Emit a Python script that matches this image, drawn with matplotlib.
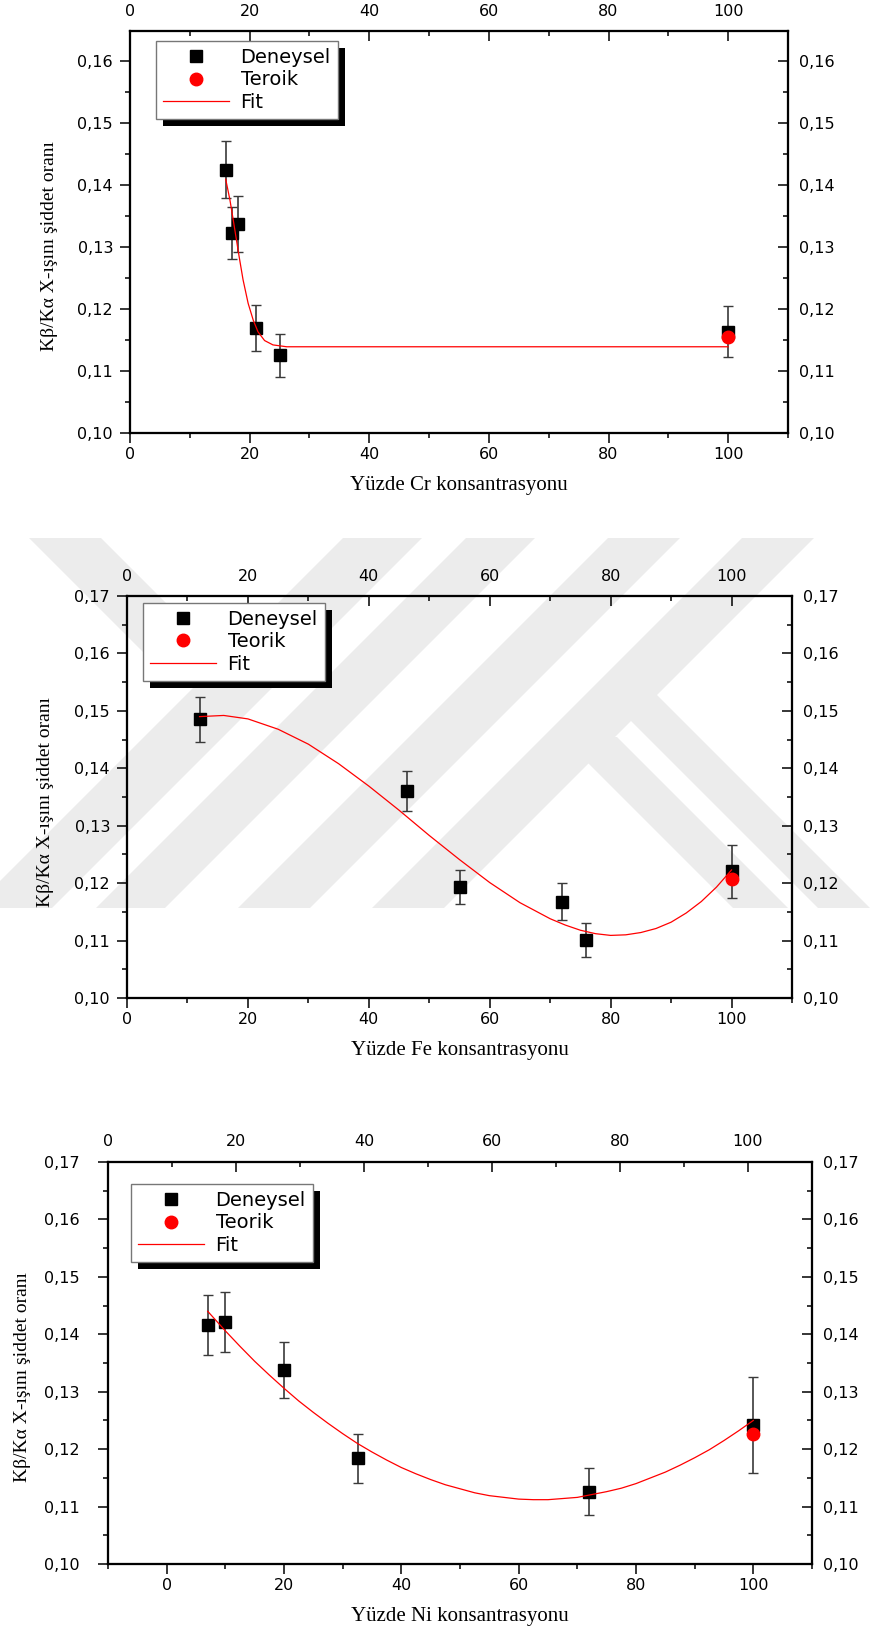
import matplotlib
matplotlib.use("Agg")
import matplotlib.pyplot as plt
from matplotlib.ticker import MultipleLocator, FuncFormatter
from matplotlib.patches import Polygon, Rectangle

# --- data ---
cr_x = [16, 17, 18, 21, 25, 100]
cr_y = [0.1424, 0.1323, 0.1337, 0.1169, 0.1125, 0.1163]
cr_err = [0.0046, 0.0042, 0.0045, 0.0037, 0.0035, 0.0041]
cr_teo_x = [100]
cr_teo_y = [0.1154]
cr_fit_x = [16, 16.7, 17.25, 17.8, 18.25, 18.9, 19.75, 20.6, 21.4, 22.5, 23.9, 26.2, 30, 40, 60, 80, 100]
cr_fit_y = [0.1409, 0.1376, 0.1344, 0.1311, 0.1284, 0.1247, 0.1209, 0.1182, 0.1163, 0.1149,
            0.1142, 0.1139, 0.1139, 0.1139, 0.1139, 0.1139, 0.1139]

fe_x = [12, 46.3, 55, 72, 76, 100]
fe_y = [0.1485, 0.1360, 0.1193, 0.1168, 0.1101, 0.1221]
fe_err = [0.0040, 0.0035, 0.0030, 0.0032, 0.0029, 0.0046]
fe_teo_x = [100]
fe_teo_y = [0.1207]
fe_fit_x = [12, 16, 20, 25, 30, 35, 40, 45, 50, 55, 60, 65, 70, 72.5, 75, 77.5, 80,
            82.5, 85, 87.5, 90, 92.5, 95, 97.5, 100]
fe_fit_y = [0.1490, 0.1492, 0.1486, 0.1468, 0.1442, 0.1408, 0.1369, 0.1327, 0.1283, 0.1241,
            0.1201, 0.1166, 0.1138, 0.1127, 0.1118, 0.1112, 0.1109, 0.1110, 0.1114, 0.1121,
            0.1132, 0.1148, 0.1168, 0.1193, 0.1223]

ni_x = [7, 10, 20, 32.6, 72, 100]
ni_y = [0.1416, 0.1422, 0.1338, 0.1184, 0.1126, 0.1242]
ni_err = [0.0052, 0.0052, 0.0049, 0.0043, 0.0041, 0.0083]
ni_teo_x = [100]
ni_teo_y = [0.1227]
ni_fit_x = [7, 10, 12.5, 15, 17.5, 20, 22.5, 25, 27.5, 30, 32.5, 35, 37.5, 40, 42.5, 45, 47.5,
            50, 52.5, 55, 57.5, 60, 62.5, 65, 67.5, 70, 72.5, 75, 77.5, 80, 82.5, 85, 87.5,
            90, 92.5, 95, 97.5, 100]
ni_fit_y = [0.1440, 0.1406, 0.1379, 0.1353, 0.1329, 0.1306, 0.1284, 0.1264, 0.1245, 0.1227,
            0.1210, 0.1195, 0.1181, 0.1168, 0.1157, 0.1147, 0.1138, 0.1131, 0.1124, 0.1119,
            0.1116, 0.1113, 0.1112, 0.1112, 0.1114, 0.1116, 0.1121, 0.1126, 0.1132, 0.1140,
            0.1150, 0.1160, 0.1172, 0.1185, 0.1199, 0.1215, 0.1232, 0.1250]

W, H = 871, 1634
fig = plt.figure(figsize=(W / 100, H / 100), dpi=100)

def px_box(l, t, r, b):
    return [l / W, 1 - b / H, (r - l) / W, (b - t) / H]

# watermark behind the middle chart (light grey bands)
wm = "#ececec"
def band_up(c1, c2, y0, y1):
    return [(c1 - y1, y1), (c2 - y1, y1), (c2 - y0, y0), (c1 - y0, y0)]
def band_dn(d1, d2, y0, y1):
    return [(y0 - d1, y0), (y0 - d2, y0), (y1 - d2, y1), (y1 - d1, y1)]
bands = [band_up(881, 960, 538, 908), band_up(1004, 1073, 538, 908),
         band_up(1146, 1218, 538, 908), band_up(1280, 1352, 538, 908),
         band_dn(437, 509, 538, 680), band_dn(38, 90, 695, 908), band_dn(120, 175, 737, 908)]
for b in bands:
    pts = [(x / W, 1 - y / H) for x, y in b]
    fig.patches.append(Polygon(pts, closed=True, transform=fig.transFigure,
                               facecolor=wm, edgecolor="none", zorder=-5))

comma = FuncFormatter(lambda v, p: f"{v:.2f}".replace(".", ","))
tickfont = "DejaVu Sans"
serif = "Liberation Serif"

def panel(box, xlim, top_xlim, ylim, x, y, err, tx, ty, fx, fy, teo_label, xlabel,
          leg_xy, ylab_xy, xlab_xy, lpad, face="white"):
    ax = fig.add_axes(px_box(*box))
    ax.set_facecolor(face)
    ax.plot(fx, fy, color="red", lw=0.9, zorder=3, label="Fit")
    ax.errorbar(x, y, yerr=err, fmt="none", ecolor="#3a3a3a", elinewidth=1.2,
                capsize=3.6, capthick=1.0, zorder=2)
    ax.plot(x, y, "s", color="black", ms=8, zorder=2.5, label="Deneysel")
    ax.plot(tx, ty, "o", color="red", ms=9, mec="red", zorder=4, label=teo_label)
    ax.set_xlim(*xlim)
    ax.set_ylim(*ylim)
    ax.xaxis.set_major_locator(MultipleLocator(20))
    ax.xaxis.set_minor_locator(MultipleLocator(10))
    ax.yaxis.set_major_locator(MultipleLocator(0.01))
    ax.yaxis.set_minor_locator(MultipleLocator(0.005))
    ax.yaxis.set_major_formatter(comma)
    ax.tick_params(which="both", direction="out", width=1.1, labelsize=11.5)
    ax.tick_params(which="major", length=7.2)
    ax.tick_params(which="minor", length=3.6)
    ax.tick_params(axis="y", pad=lpad)
    ax.tick_params(axis="x", pad=3)
    for s in ax.spines.values():
        s.set_linewidth(1.5)
    for lab in ax.get_xticklabels() + ax.get_yticklabels():
        lab.set_family(tickfont)

    # top axis
    axt = ax.twiny()
    axt.set_xlim(*top_xlim)
    axt.xaxis.set_major_locator(MultipleLocator(20))
    axt.xaxis.set_minor_locator(MultipleLocator(10))
    axt.tick_params(which="both", direction="in", width=1.1, labelsize=11.5, pad=9)
    axt.tick_params(which="major", length=7.2)
    axt.tick_params(which="minor", length=3.6)
    for lab in axt.get_xticklabels():
        lab.set_family(tickfont)
    axt.set_xticks([v for v in axt.get_xticks() if top_xlim[0] <= v <= 100])

    # right axis
    axr = ax.twinx()
    axr.set_ylim(*ylim)
    axr.yaxis.set_major_locator(MultipleLocator(0.01))
    axr.yaxis.set_minor_locator(MultipleLocator(0.005))
    axr.yaxis.set_major_formatter(comma)
    axr.tick_params(which="both", direction="in", width=1.1, labelsize=11.5, pad=8)
    axr.tick_params(which="major", length=7.2)
    axr.tick_params(which="minor", length=3.6)
    for lab in axr.get_yticklabels():
        lab.set_family(tickfont)
    for a in (axt, axr):
        for s in a.spines.values():
            s.set_linewidth(1.5)

    ax.set_xticks([v for v in range(0, 101, 20) if v >= xlim[0]])

    ax.text(ylab_xy[0], ylab_xy[1], "Kβ/Kα X-ışını şiddet oranı", transform=ax.transAxes,
            rotation=90, ha="center", va="center", fontsize=14, family=serif)
    ax.text(xlab_xy[0], xlab_xy[1], xlabel, transform=ax.transAxes,
            ha="center", va="center", fontsize=15, family=serif)

    h, l = ax.get_legend_handles_labels()
    order = [1, 2, 0]
    leg = axr.legend([h[i] for i in order], [l[i] for i in order], loc="upper left",
                     bbox_to_anchor=leg_xy, borderaxespad=0, frameon=True, fancybox=False,
                     framealpha=1, prop={"family": tickfont, "size": 14},
                     handlelength=3.4, handletextpad=0.6, borderpad=0.35,
                     labelspacing=0.18, numpoints=1)
    leg.get_frame().set_edgecolor("#777777")
    leg.get_frame().set_linewidth(1.0)
    return ax, leg

p1 = panel((130, 31, 788, 433), (0, 110), (0, 110), (0.10, 0.1648),
           cr_x, cr_y, cr_err, cr_teo_x, cr_teo_y, cr_fit_x, cr_fit_y, "Teroik",
           "Yüzde Cr konsantrasyonu", (0.0395, 0.975), (-0.122, 0.465), (0.5, -0.13), 5)
p2 = panel((127, 596, 792, 998), (0, 110), (0, 110), (0.10, 0.17),
           fe_x, fe_y, fe_err, fe_teo_x, fe_teo_y, fe_fit_x, fe_fit_y, "Teorik",
           "Yüzde Fe konsantrasyonu", (0.024, 0.9826), (-0.122, 0.487), (0.5, -0.13), 5, face="none")
p3 = panel((108, 1162, 812, 1564), (-10, 110), (0, 110), (0.10, 0.17),
           ni_x, ni_y, ni_err, ni_teo_x, ni_teo_y, ni_fit_x, ni_fit_y, "Teorik",
           "Yüzde Ni konsantrasyonu", (0.0327, 0.945), (-0.122, 0.465), (0.5, -0.13), 13)

# black drop shadow behind each legend
fig.canvas.draw()
for ax, leg in (p1, p2, p3):
    bb = leg.get_window_extent()
    fig.patches.append(Rectangle((bb.x0 + 7, bb.y0 - 7), bb.width, bb.height,
                                 transform=None, facecolor="black", edgecolor="none", zorder=50))
    leg.remove()
    leg.set_zorder(60)
    fig.legends.append(leg)
    leg.set_figure(fig)

fig.savefig("out.png", dpi=100)
